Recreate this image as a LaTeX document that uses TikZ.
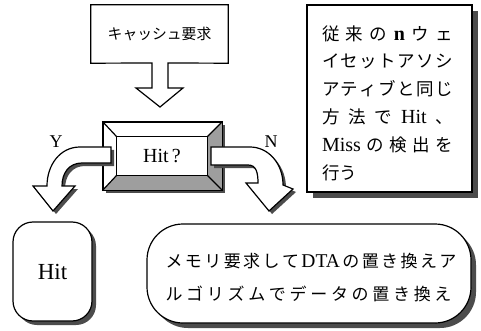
\documentclass[tikz,border=0pt]{standalone}
\usepackage{fontspec}
\setmainfont{Liberation Serif}
\newfontfamily\cjk{Noto Sans CJK JP}
\usetikzlibrary{shadows,calc}
\makeatletter
\newcommand\spreadtxt[2]{\makebox[#1][s]{\@tfor\sptk:=#2\do{{\sptk}\hfil}\unskip}}
\makeatother
\newcommand\latin[2]{{\rmfamily\fontsize{#1}{#1}\selectfont #2}}
\definecolor{shadowc}{gray}{0.3}
\definecolor{bevelc}{gray}{0.62}
\tikzset{
  outl/.style={draw=black, line width=1.2pt, line join=miter},
  dshadow/.style={drop shadow={shadow xshift=#1, shadow yshift=-#1, fill=shadowc, opacity=1}},
  blockarrow/.style={outl, fill=white},
  arrowshadow/.style={fill=shadowc},
  lbl/.style={font=\fontsize{18}{18}\selectfont, inner sep=0pt}
}
\begin{document}
\begin{tikzpicture}[x=1pt,y=-1pt]
\useasboundingbox (0,0) rectangle (481,331);
\fill[white] (0,0) rectangle (481,331);

% top request box with its block arrow
\node[minimum width=137pt, minimum height=58pt, inner sep=0pt,
      font=\cjk\fontsize{14.8}{15}\selectfont] (req) at (159.5,34) {キャッシュ要求};
\draw[outl] (req.north west) -- (req.north east) -- (req.south east)
  -- (168,63) -- (168,88) -- (183,88) -- (160,107) -- (136,88) -- (152,88) -- (152,63)
  -- (req.south west) -- cycle;

% note box
\node[outl, fill=white, dshadow=6pt, minimum width=165pt, minimum height=187pt] (note) at (389.5,98.5) {};
\node[align=left, inner sep=0pt, font=\cjk\fontsize{17.5}{27.8}\selectfont] (notetxt) at (387.5,103) {%
\spreadtxt{131pt}{従 来 の {\latin{20}{\textbf{n}}} ウ ェ}\\
\spreadtxt{131pt}{イ セ ッ ト ア ソ シ}\\
\spreadtxt{131pt}{ア テ ィ ブ と 同 じ}\\
\spreadtxt{131pt}{方 法 で {\latin{20}{Hit}} 、}\\
\spreadtxt{131pt}{{\latin{20}{Miss}} の 検 出 を}\\
行う};

% Hit? bevelled box
\node[outl, fill=white, dshadow=3pt, minimum width=119pt, minimum height=68pt, inner sep=0pt] (hitq) at (162.5,156) {};
\coordinate (iA) at ($(hitq.north west)+(14,15)$);
\coordinate (iB) at ($(hitq.north east)+(-15,15)$);
\coordinate (iC) at ($(hitq.south east)+(-15,-15)$);
\coordinate (iD) at ($(hitq.south west)+(14,-15)$);
\fill[bevelc] (iB) -- (hitq.north east) -- (hitq.south east) -- (iC) -- cycle;
\fill[bevelc] (iD) -- (iC) -- (hitq.south east) -- (hitq.south west) -- cycle;
\draw[outl] (hitq.north west) rectangle (hitq.south east);
\draw[outl] (iA) rectangle (iC);
\draw[outl] (hitq.north west) -- (iA) (hitq.north east) -- (iB)
            (hitq.south east) -- (iC) (hitq.south west) -- (iD);
\node[inner sep=0pt, font=\fontsize{20}{20}\selectfont] (hitqtxt) at ($(iA)!0.5!(iC)$) {Hit\,?};

% Y arrow
\fill[arrowshadow, shift={(3,3)}] (111,147) -- (80,147) .. controls (60,147) and (47,165) .. (47,186)
  -- (33,186) -- (53,211) -- (75,186) -- (62,186) .. controls (62,173) and (69,163) .. (82,163) -- (111,163) -- cycle;
\draw[blockarrow] (111,147) -- (80,147) .. controls (60,147) and (47,165) .. (47,186)
  -- (33,186) -- (53,211) -- (75,186) -- (62,186) .. controls (62,173) and (69,163) .. (82,163) -- (111,163) -- cycle;
\node[lbl] (ylab) at (56,142) {Y};

% N arrow
\fill[arrowshadow, shift={(3,3)}] (211,147) -- (250,147) .. controls (268,147) and (283,163) .. (283,185)
  -- (293,189) -- (269,211) -- (246,183) -- (258,183) .. controls (258,172) and (256,165) .. (248,165) -- (211,165) -- cycle;
\draw[blockarrow] (211,147) -- (250,147) .. controls (268,147) and (283,163) .. (283,185)
  -- (293,189) -- (269,211) -- (246,183) -- (258,183) .. controls (258,172) and (256,165) .. (248,165) -- (211,165) -- cycle;
\node[lbl] (nlab) at (271,142) {N};

% Hit result box
\node[outl, fill=white, dshadow=4pt, rounded corners=20pt, minimum width=79pt, minimum height=99pt,
      font=\fontsize{23}{23}\selectfont] (hit) at (52.5,271.5) {Hit};

% memory request box
\node[outl, fill=white, dshadow=5pt, rounded corners=36pt, minimum width=324pt, minimum height=99pt] (mem) at (309,273.5) {};
\node[align=left, inner sep=0pt, font=\cjk\fontsize{17}{33}\selectfont] (memtxt) at (311,278) {%
\spreadtxt{291pt}{メ モ リ 要 求 し て {\latin{19.5}{DTA}} の 置 き 換 え ア}\\
\spreadtxt{286pt}{ル ゴ リ ズ ム で デ ー タ の 置 き 換 え}};
\end{tikzpicture}
\end{document}
